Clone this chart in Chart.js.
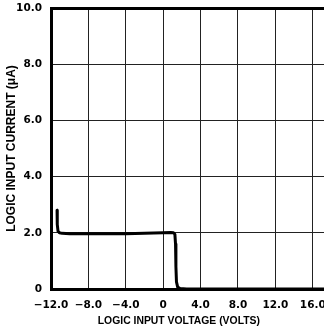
<!DOCTYPE html>
<html>
<head>
<meta charset="utf-8">
<script src="https://cdn.jsdelivr.net/npm/chart.js@4"></script>
<style>
html,body{margin:0;padding:0;background:#fff;overflow:hidden;}
canvas{display:block;}
</style>
</head>
<body>
<canvas id="c" width="324" height="329"></canvas>
<script>
// Logic input voltage (V) and current (µA)
const voltage = [-11.35, -11.33, -11.25, -11.1, -10.8, -10.0, -8.0, -6.0, -4.0, -2.0, 0.0, 0.8, 1.1, 1.25, 1.32, 1.36, 1.42, 1.55, 1.8, 2.5, 8.0, 17.5];
const current = [2.8, 2.3, 2.06, 2.0, 1.98, 1.97, 1.97, 1.97, 1.97, 1.98, 2.0, 2.01, 2.0, 1.95, 1.6, 0.8, 0.25, 0.07, 0.02, 0.0, 0.0, 0.0];

const xTickValues = [-12, -8, -4, 0, 4, 8, 12, 16];
const xTickLabels = ['\u221212.0', '\u22128.0', '\u22124.0', '0', '4.0', '8.0', '12.0', '16.0'];
const yTickValues = [0, 2, 4, 6, 8, 10];
const yTickLabels = ['0', '2.0', '4.0', '6.0', '8.0', '10.0'];

// trailing no-break spaces shift the centred title slightly left, as in the reference
const xTitle = 'LOGIC INPUT VOLTAGE (VOLTS)\u00a0\u00a0\u00a0\u00a0\u00a0\u00a0';
const yTitle = 'LOGIC INPUT CURRENT (\u03bcA)';

const points = voltage.map((v, i) => ({x: v, y: current[i]}));
const tickFont = {family: '"DejaVu Sans", sans-serif', size: 10.5, weight: 'bold'};

new Chart(document.getElementById('c'), {
  type: 'scatter',
  data: {
    datasets: [{
      data: points,
      showLine: true,
      borderColor: '#000',
      borderWidth: 3,
      pointRadius: 0,
      tension: 0,
      borderJoinStyle: 'round',
      borderCapStyle: 'round'
    }]
  },
  options: {
    responsive: false,
    animation: false,
    events: [],
    layout: {padding: {top: 8, left: 0, right: 0, bottom: 0}},
    plugins: {legend: {display: false}, tooltip: {enabled: false}},
    scales: {
      x: {
        type: 'linear',
        min: -12,
        max: 17.2,
        afterBuildTicks: s => { s.ticks = xTickValues.map(v => ({value: v})); },
        afterFit: s => { s.height = 40; s.paddingLeft = 0; s.paddingRight = 0; },
        ticks: {
          color: '#000',
          font: tickFont,
          padding: 10,
          maxRotation: 0,
          autoSkip: false,
          callback: v => { const i = xTickValues.indexOf(v); return i >= 0 ? xTickLabels[i] : ''; }
        },
        grid: {color: '#222', lineWidth: 1, drawTicks: false},
        border: {display: true, color: '#000', width: 3},
        title: {
          display: true,
          text: xTitle,
          color: '#000',
          font: {family: '"Liberation Sans", Arial, sans-serif', size: 10.4, weight: 'bold'},
          padding: {top: 0, bottom: 2}
        }
      },
      y: {
        type: 'linear',
        min: 0,
        max: 10,
        afterBuildTicks: s => { s.ticks = yTickValues.map(v => ({value: v})); },
        afterFit: s => { s.width = 51; s.paddingTop = 0; s.paddingBottom = 0; },
        ticks: {
          color: '#000',
          font: tickFont,
          padding: 9,
          autoSkip: false,
          callback: v => { const i = yTickValues.indexOf(v); return i >= 0 ? yTickLabels[i] : ''; }
        },
        grid: {
          color: ctx => (ctx.tick && ctx.tick.value === 10) ? '#000' : '#222',
          lineWidth: ctx => (ctx.tick && ctx.tick.value === 10) ? 3 : 1,
          drawTicks: false
        },
        border: {display: true, color: '#000', width: 3},
        title: {
          display: true,
          text: yTitle,
          color: '#000',
          font: {family: '"Liberation Sans", Arial, sans-serif', size: 12, weight: 'bold'},
          padding: {top: 4, bottom: 0}
        }
      }
    }
  }
});
</script>
</body>
</html>
